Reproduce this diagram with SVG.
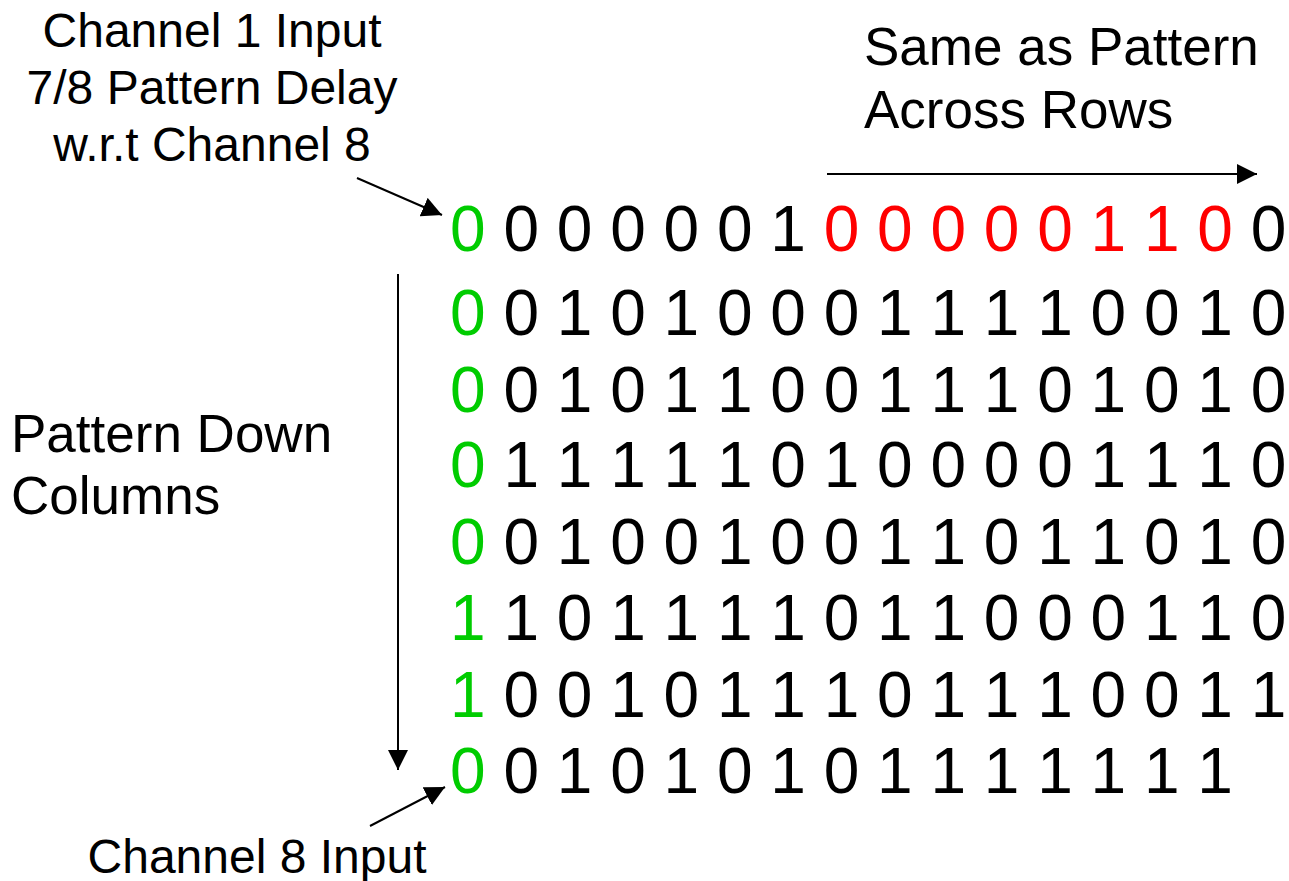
<svg xmlns="http://www.w3.org/2000/svg" width="1289" height="881" viewBox="0 0 1289 881">
<style>
text{font-family:"Liberation Sans",Arial,sans-serif;fill:#000}
.lbl48{font-size:48px}
.lbl52{font-size:53px}
.grid text{font-size:64px}
.g{fill:#00CC00}
.r{fill:#FF0000}
.conn line{stroke:#000;stroke-width:2;fill:none}
</style>
<defs>
<marker id="ah" viewBox="0 0 20 20" refX="20" refY="10" markerWidth="20" markerHeight="20" markerUnits="userSpaceOnUse" orient="auto">
<path d="M0,0 L20,10 L0,20 Z" fill="#000"/>
</marker>
</defs>
<rect width="1289" height="881" fill="#fff"/>
<g id="label-channel1" class="lbl48">
<text x="212" y="47" text-anchor="middle">Channel 1 Input</text>
<text x="212" y="104" text-anchor="middle">7/8 Pattern Delay</text>
<text x="212" y="161" text-anchor="middle">w.r.t Channel 8</text>
</g>
<g id="label-same" class="lbl52">
<text x="864" y="65">Same as Pattern</text>
<text x="864" y="128">Across Rows</text>
</g>
<g id="label-down" class="lbl52">
<text x="11" y="452">Pattern Down</text>
<text x="11" y="514">Columns</text>
</g>
<g id="label-channel8" class="lbl48">
<text x="257" y="873" text-anchor="middle">Channel 8 Input</text>
</g>
<g id="grid" class="grid" xml:space="preserve">
<text x="450" y="251"><tspan class="g">0</tspan> 0 0 0 0 0 1 <tspan class="r">0 0 0 0 0 1 1 0</tspan> 0</text>
<text x="450" y="335"><tspan class="g">0</tspan> 0 1 0 1 0 0 0 1 1 1 1 0 0 1 0</text>
<text x="450" y="412"><tspan class="g">0</tspan> 0 1 0 1 1 0 0 1 1 1 0 1 0 1 0</text>
<text x="450" y="487"><tspan class="g">0</tspan> 1 1 1 1 1 0 1 0 0 0 0 1 1 1 0</text>
<text x="450" y="564"><tspan class="g">0</tspan> 0 1 0 0 1 0 0 1 1 0 1 1 0 1 0</text>
<text x="450" y="640"><tspan class="g">1</tspan> 1 0 1 1 1 1 0 1 1 0 0 0 1 1 0</text>
<text x="450" y="717"><tspan class="g">1</tspan> 0 0 1 0 1 1 1 0 1 1 1 0 0 1 1</text>
<text x="450" y="793"><tspan class="g">0</tspan> 0 1 0 1 0 1 0 1 1 1 1 1 1 1</text>
</g>
<g id="connectors" class="conn">
<line x1="357" y1="178" x2="442" y2="215" marker-end="url(#ah)"/>
<line x1="827" y1="174" x2="1257" y2="174" marker-end="url(#ah)"/>
<line x1="398" y1="274" x2="398" y2="770" marker-end="url(#ah)"/>
<line x1="370" y1="826" x2="445" y2="787" marker-end="url(#ah)"/>
</g>
</svg>
